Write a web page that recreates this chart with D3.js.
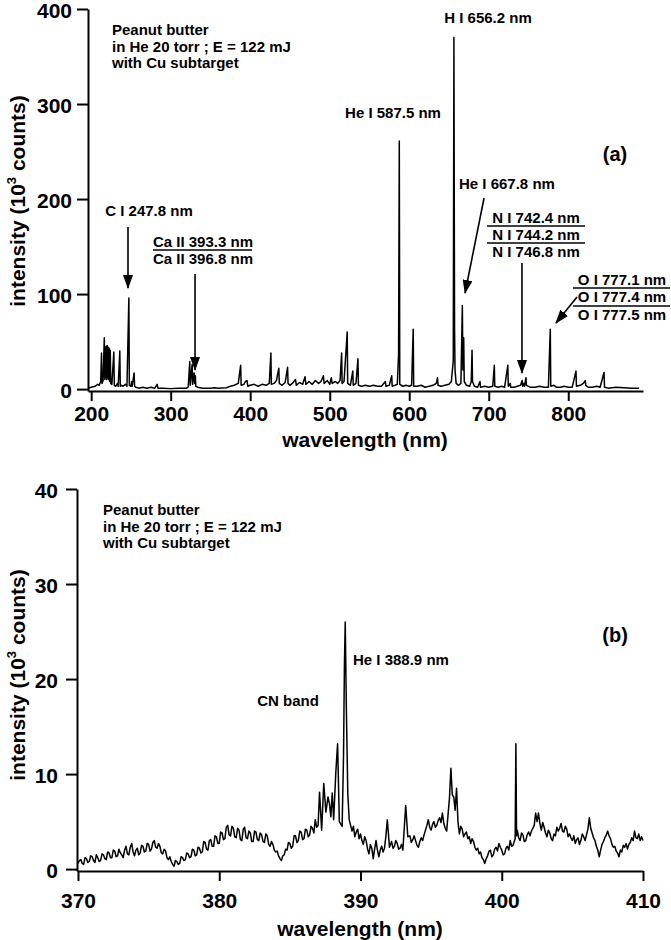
<!DOCTYPE html>
<html>
<head>
<meta charset="utf-8">
<script src="https://cdn.jsdelivr.net/npm/d3@7"></script>
<style>
  body { margin: 0; background: #fff; }
  svg { font-family: "Liberation Sans", Arial, sans-serif; font-weight: bold; }
</style>
</head>
<body>
<div id="chart"></div>
<script>
// panel (a): full spectrum, [wavelength nm, intensity 10^3 counts]
const spectrumA = [
  [197,1],[200,2],[205,3],[208,5],[210,4],[212,8],[213,38],[213.6,6],[215,9],[216.5,54],[217.2,10],
  [217.8,44],[218.4,12],[219,45],[219.6,10],[220.2,46],[220.8,12],[221.4,44],[222,10],[222.6,43],
  [223.2,8],[224,41],[224.6,6],[226,5],[228.5,39],[229.1,4],[231,3],[233,6],[234,3],[236,40],
  [236.6,3],[238,4],[240,3],[243,5],[245,3],[247.4,96],[248,4],[250,3],[251,8],[251.6,3],[254,17],
  [254.6,3],[256,2],[260,1],[265,2],[270,1],[275,2],[280,1],[283,5],[284,1],[290,1],[300,0.5],
  [310,1],[320,1],[322,2],[324,29],[324.6,4],[327,26],[327.6,5],[329.5,17],[330.2,6],[331,14],
  [331.6,3],[334,2],[340,1],[350,1],[355,1.5],[360,1],[370,1.5],[375,3],[380,4],[385,6],[388,25],
  [388.6,4],[392,5],[394,8],[396,9],[397,3],[400,4],[405,5],[410,3],[415,5],[420,4],[424,6],
  [426,38],[426.6,5],[430,6],[433,9],[436,22],[436.6,6],[440,4],[444,7],[447,23],[447.6,6],[450,4],
  [453,6],[457,10],[458,4],[462,7],[466,5],[469,13],[470,5],[474,8],[478,5],[482,9],[486,6],
  [489,8],[492,14],[493,6],[497,9],[500,5],[502,12],[503,6],[507,8],[510,6],[513,9],[515,38],
  [515.6,6],[518,8],[522,60],[522.6,6],[526,4],[529,19],[529.6,4],[533,6],[535.5,32],[536.1,4],
  [540,3],[545,4],[550,3],[555,4],[560,3],[565,3],[570,8],[570.6,3],[575,4],[578,14],[578.6,3],
  [582,4],[585,5],[586.6,36],[587.5,261],[588.1,5],[592,3],[596,4],[600,3],[603,4],[605,63],
  [605.6,3],[610,3],[615,4],[620,2],[625,3],[630,4],[634,6],[635.6,12],[636.2,4],[640,3],[645,4],
  [650,5],[653,8],[654.5,22],[655.4,30],[656.2,370],[657,64],[657.6,20],[659,6],[662,4],[665,6],
  [666.8,88],[667.5,20],[668.5,54],[669.2,8],[672,4],[676,3],[678,8],[679,41],[679.6,8],[682,3],
  [686,2],[689,8],[689.6,2],[695,3],[700,2],[705,3],[707,25],[707.6,3],[712,2],[716,3],[720,2],
  [724,25],[724.6,3],[727,6],[727.6,2],[732,2],[736,3],[740,4],[742,9],[742.6,3],[744.2,6],[745,3],
  [746.8,12],[747.4,4],[752,2],[758,2],[764,3],[770,2],[775,2],[777.4,63],[778,3],[782,4],[785,2],
  [790,2],[795,3],[800,2],[805,2],[809.7,19],[810.3,3],[815,4],[819,6],[821.4,9],[822,4],[825,2],
  [830,2],[836,3],[840,2],[845,17.5],[845.6,2],[850,1],[860,2],[870,1.5],[880,1],[889,1]
]

// panel (b): 370-410 nm detail
const spectrumB = [
  [370.0,0.6],[370.1,0.9],[370.2,1.0],[370.3,0.6],[370.4,0.5],[370.5,1.2],[370.6,1.1],[370.7,0.7],
  [370.8,0.8],[370.9,1.4],[371.0,1.3],[371.1,0.9],[371.2,0.7],[371.3,1.5],[371.4,1.2],[371.5,0.8],
  [371.6,0.9],[371.7,1.6],[371.8,1.5],[371.9,1.1],[372.0,1.0],[372.1,1.8],[372.2,1.7],[372.3,1.2],
  [372.4,1.2],[372.5,2.0],[372.6,1.9],[372.7,1.3],[372.8,1.4],[372.9,2.1],[373.0,1.7],[373.1,1.5],
  [373.2,1.2],[373.3,2.0],[373.4,2.4],[373.5,1.6],[373.6,1.5],[373.7,2.3],[373.8,2.7],[373.9,1.8],
  [374.0,1.4],[374.1,2.0],[374.2,2.2],[374.3,1.5],[374.4,1.7],[374.5,2.5],[374.6,2.4],[374.7,1.8],
  [374.8,1.9],[374.9,2.7],[375.0,2.6],[375.1,1.9],[375.2,2.1],[375.3,2.8],[375.4,3.0],[375.5,2.3],
  [375.6,2.2],[375.7,2.7],[375.8,2.4],[375.9,1.7],[376.0,1.6],[376.1,2.1],[376.2,1.9],[376.3,1.2],
  [376.4,1.0],[376.5,1.3],[376.6,0.8],[376.7,0.5],[376.8,0.3],[376.9,0.9],[377.0,0.8],[377.1,0.5],
  [377.2,0.6],[377.3,1.3],[377.4,1.2],[377.5,0.9],[377.6,1.0],[377.7,1.7],[377.8,1.6],[377.9,1.2],
  [378.0,1.3],[378.1,2.1],[378.2,2.0],[378.3,1.4],[378.4,1.5],[378.5,2.3],[378.6,2.2],[378.7,1.7],
  [378.8,1.8],[378.9,2.9],[379.0,2.8],[379.1,2.1],[379.2,2.0],[379.3,3.0],[379.4,3.1],[379.5,2.4],
  [379.6,2.4],[379.7,3.5],[379.8,3.4],[379.9,2.7],[380.0,2.7],[380.1,3.9],[380.2,3.8],[380.3,3.1],
  [380.4,3.2],[380.5,4.4],[380.6,4.6],[380.7,3.6],[380.8,3.5],[380.9,4.5],[381.0,4.3],[381.1,3.4],
  [381.2,3.3],[381.3,4.3],[381.4,4.1],[381.5,3.1],[381.6,3.0],[381.7,4.2],[381.8,4.4],[381.9,3.3],
  [382.0,3.2],[382.1,4.0],[382.2,3.8],[382.3,2.9],[382.4,2.9],[382.5,4.0],[382.6,3.9],[382.7,3.1],
  [382.8,3.0],[382.9,3.8],[383.0,3.6],[383.1,2.9],[383.2,2.8],[383.3,3.7],[383.4,3.5],[383.5,2.6],
  [383.6,2.4],[383.7,2.9],[383.8,2.6],[383.9,2.0],[384.0,1.8],[384.1,1.9],[384.2,1.4],[384.3,1.1],
  [384.4,0.9],[384.5,1.4],[384.6,1.5],[384.7,2.1],[384.8,2.0],[384.9,2.8],[385.0,2.7],[385.1,2.2],
  [385.2,2.4],[385.3,3.5],[385.4,3.5],[385.5,2.8],[385.6,3.0],[385.7,4.0],[385.8,3.9],[385.9,3.1],
  [386.0,3.2],[386.1,4.2],[386.2,4.1],[386.3,3.4],[386.4,3.6],[386.5,4.5],[386.6,4.3],[386.7,3.8],
  [386.8,5.2],[386.9,4.4],[387.0,4.6],[387.1,8.1],[387.25,4.1],[387.4,9.0],[387.55,6.0],[387.7,7.6],
  [387.8,6.9],[387.9,5.5],[388.0,8.0],[388.1,5.2],[388.25,10.1],[388.38,13.2],[388.5,5.0],
  [388.7,4.5],[388.8,12.0],[388.86,21.3],[388.92,26.0],[389.0,16.9],[389.1,8.0],[389.2,5.2],
  [389.3,4.6],[389.4,4.0],[389.5,4.5],[389.6,3.4],[389.7,3.9],[389.8,4.2],[389.9,3.2],[390.0,3.7],
  [390.1,3.0],[390.2,2.6],[390.3,3.4],[390.4,3.0],[390.5,2.1],[390.6,1.6],[390.7,2.6],[390.8,2.2],
  [390.9,1.1],[391.0,2.1],[391.1,3.0],[391.2,2.0],[391.3,1.3],[391.4,2.0],[391.5,2.4],[391.6,1.8],
  [391.7,2.2],[391.8,3.5],[391.9,5.2],[392.05,2.3],[392.2,2.9],[392.3,2.2],[392.4,2.4],[392.5,3.0],
  [392.6,2.7],[392.7,2.1],[392.8,2.2],[392.9,2.6],[393.0,2.0],[393.2,6.7],[393.35,3.4],[393.5,3.5],
  [393.6,2.8],[393.7,3.1],[393.8,3.5],[393.9,3.0],[394.0,2.5],[394.1,2.3],[394.2,2.9],[394.3,3.3],
  [394.4,3.0],[394.5,3.6],[394.6,4.1],[394.7,4.6],[394.8,5.2],[394.9,4.4],[395.0,4.1],[395.1,4.7],
  [395.2,5.0],[395.3,4.4],[395.4,4.6],[395.5,5.1],[395.6,5.4],[395.7,4.9],[395.8,5.9],[395.9,4.8],
  [396.0,4.3],[396.1,4.0],[396.3,7.5],[396.4,10.6],[396.5,7.8],[396.6,7.6],[396.7,6.2],[396.8,8.5],
  [396.9,5.0],[397.0,3.7],[397.1,4.5],[397.2,4.2],[397.3,3.4],[397.4,3.7],[397.5,3.9],[397.6,3.2],
  [397.7,3.4],[397.8,2.7],[397.9,3.2],[398.0,2.9],[398.1,2.3],[398.2,2.0],[398.3,2.2],[398.4,1.6],
  [398.5,1.8],[398.6,1.2],[398.7,1.0],[398.8,0.6],[398.9,1.1],[399.0,1.4],[399.1,1.9],[399.2,2.0],
  [399.3,1.3],[399.4,1.5],[399.5,2.1],[399.6,2.3],[399.7,1.9],[399.8,2.7],[399.9,2.3],[400.0,2.0],
  [400.1,1.5],[400.2,1.6],[400.3,2.2],[400.4,2.4],[400.5,2.0],[400.6,3.0],[400.7,2.4],[400.8,2.5],
  [400.95,3.2],[401.0,13.2],[401.05,3.5],[401.1,4.1],[401.2,3.3],[401.3,3.0],[401.4,3.8],[401.5,3.6],
  [401.6,2.9],[401.7,3.0],[401.8,3.6],[401.9,3.9],[402.0,3.5],[402.1,4.0],[402.2,4.3],[402.3,4.6],
  [402.4,5.9],[402.5,5.0],[402.6,5.9],[402.7,4.8],[402.8,4.1],[402.9,4.9],[403.0,4.4],[403.1,3.8],
  [403.2,3.4],[403.3,4.1],[403.4,3.8],[403.5,3.2],[403.6,3.0],[403.7,3.7],[403.8,3.5],[403.9,4.4],
  [404.0,4.0],[404.1,4.3],[404.2,4.8],[404.3,4.0],[404.4,3.9],[404.5,4.5],[404.6,4.2],[404.7,3.4],
  [404.8,3.7],[404.9,3.3],[405.0,3.0],[405.1,3.5],[405.2,2.7],[405.3,3.1],[405.4,3.3],[405.5,2.6],
  [405.6,3.0],[405.7,3.7],[405.8,3.4],[405.9,3.0],[406.0,3.6],[406.1,4.2],[406.2,5.4],[406.3,4.3],
  [406.4,3.8],[406.5,3.3],[406.6,3.0],[406.7,2.4],[406.8,2.0],[406.9,1.3],[407.0,2.0],[407.1,2.6],
  [407.2,2.9],[407.3,3.3],[407.4,3.6],[407.5,4.0],[407.6,3.5],[407.7,3.2],[407.8,2.6],[407.9,2.3],
  [408.0,2.4],[408.1,1.9],[408.2,1.7],[408.3,1.3],[408.4,2.0],[408.5,1.8],[408.6,2.5],[408.7,2.3],
  [408.8,2.7],[408.9,2.1],[409.0,2.6],[409.1,2.8],[409.2,3.3],[409.3,3.0],[409.4,4.0],[409.5,3.3],
  [409.6,3.2],[409.7,3.7],[409.8,3.0],[409.9,3.4],[410.0,3.0]
]

const xTicksA = [200, 300, 400, 500, 600, 700, 800]
const yTicksA = [0, 100, 200, 300, 400]
const xTicksB = [370, 380, 390, 400, 410]
const yTicksB = [0, 10, 20, 30, 40]

const sampleLines = ['Peanut butter', 'in He 20 torr ; E = 122 mJ', 'with Cu subtarget']

// annotations, anchored in data units
const labelsA = [
  { text: 'H I 656.2 nm',   wl: 699.1, v: 385.3, anchor: 'middle' },
  { text: 'He I 587.5 nm',  wl: 579.6, v: 285.3, anchor: 'middle' },
  { text: 'He I 667.8 nm',  wl: 662.6, v: 210.6, anchor: 'start' },
  { text: 'C I 247.8 nm',   wl: 272.7, v: 182.2, anchor: 'middle' },
  { text: 'Ca II 393.3 nm', wl: 340.6, v: 149.8, anchor: 'middle' },
  { text: 'Ca II 396.8 nm', wl: 340.6, v: 131.7, anchor: 'middle' },
  { text: 'N I 742.4 nm',   wl: 759.5, v: 174.9, anchor: 'middle' },
  { text: 'N I 744.2 nm',   wl: 759.5, v: 157.0, anchor: 'middle' },
  { text: 'N I 746.8 nm',   wl: 759.5, v: 139.1, anchor: 'middle' },
  { text: 'O I 777.1 nm',   wl: 867.6, v: 109.6, anchor: 'middle' },
  { text: 'O I 777.4 nm',   wl: 867.6, v: 91.7,  anchor: 'middle' },
  { text: 'O I 777.5 nm',   wl: 867.6, v: 72.8,  anchor: 'middle' }
]
const rulesA = [
  { wl1: 277.8, wl2: 402.3, v: 146.4 },
  { wl1: 697.8, wl2: 821.1, v: 171.6 },
  { wl1: 697.8, wl2: 821.1, v: 153.8 },
  { wl1: 806.0, wl2: 928.0, v: 106.4 },
  { wl1: 806.0, wl2: 928.0, v: 87.5 }
]
const arrowsA = [
  { from: [246.3, 170.6], to: [246.3, 106.4] },
  { from: [330.6, 121.1], to: [330.6, 20.1] },
  { from: [694.1, 201.1], to: [670.2, 101.1] },
  { from: [741.8, 132.7], to: [741.8, 16.9] },
  { from: [811.0, 96.9],  to: [784.6, 69.6] }
]
const labelsB = [
  { text: 'He I 388.9 nm', wl: 389.47, v: 21.5, anchor: 'start' },
  { text: 'CN band',       wl: 384.87, v: 17.2, anchor: 'middle' }
]

const svg = d3.select('#chart')
              .append('svg')
              .attr('width', 671)
              .attr('height', 940)

svg.append('defs').append('marker')
   .attr('id', 'head')
   .attr('viewBox', '0 0 14 10')
   .attr('refX', 13)
   .attr('refY', 5)
   .attr('markerUnits', 'userSpaceOnUse')
   .attr('markerWidth', 14)
   .attr('markerHeight', 10)
   .attr('orient', 'auto')
   .append('path')
   .attr('d', 'M0,0 L14,5 L0,10 Z')
   .attr('fill', '#000')

const drawPanel = p => {
    const g = svg.append('g')

    // X Axis
    const xAxisCall = d3.axisBottom(p.x)
                        .tickValues(p.xTicks)
                        .tickSize(10)
                        .tickSizeOuter(0)
                        .tickPadding(p.xPad)
    const xg = g.append('g')
                .attr('transform', 'translate(0,' + p.y.range()[0] + ')')
                .call(xAxisCall)

    // Y Axis
    const yAxisCall = d3.axisLeft(p.y)
                        .tickValues(p.yTicks)
                        .tickSize(11)
                        .tickSizeOuter(0)
                        .tickPadding(p.yPad)
    const yg = g.append('g')
                .attr('transform', 'translate(' + p.x.range()[0] + ',0)')
                .call(yAxisCall)
    yg.selectAll('text').attr('dy', '0.42em')

    for (const ax of [xg, yg]) {
        ax.attr('font-size', null).attr('font-family', null)
        ax.selectAll('text').attr('font-size', 21).attr('fill', '#000')
        ax.selectAll('line').attr('stroke-width', 2)
        ax.select('.domain').attr('stroke-width', 2)
    }

    // X Label
    g.append('text')
     .attr('x', p.xLabelX)
     .attr('y', p.xLabelY)
     .attr('font-size', 21)
     .attr('text-anchor', 'middle')
     .text('wavelength (nm)')

    // Y Label
    const yl = g.append('text')
                .attr('transform', 'translate(25,' + p.yLabelY + ') rotate(-90)')
                .attr('font-size', 21)
                .attr('text-anchor', 'middle')
    yl.append('tspan').text('intensity (10')
    yl.append('tspan').attr('font-size', 13).attr('dy', -9).text('3')
    yl.append('tspan').attr('dy', 9).text(' counts)')

    // spectrum
    const line = d3.line()
                   .x(d => p.x(d[0]))
                   .y(d => p.y(d[1]))
    g.append('path')
     .datum(p.data)
     .attr('fill', 'none')
     .attr('stroke', '#000')
     .attr('stroke-width', p.lineWidth)
     .attr('stroke-linejoin', 'round')
     .attr('d', line)

    // sample description
    g.selectAll('.sample')
     .data(sampleLines)
     .enter()
     .append('text')
     .attr('class', 'sample')
     .attr('x', p.x(p.sample.wl))
     .attr('y', (d, i) => p.y(p.sample.v[i]))
     .attr('font-size', 15)
     .text(d => d)

    // panel tag
    g.append('text')
     .attr('x', p.x(p.tag.wl))
     .attr('y', p.y(p.tag.v))
     .attr('font-size', 20)
     .attr('text-anchor', 'middle')
     .text(p.tag.text)

    g.selectAll('.lbl')
     .data(p.labels)
     .enter()
     .append('text')
     .attr('class', 'lbl')
     .attr('x', d => p.x(d.wl))
     .attr('y', d => p.y(d.v))
     .attr('font-size', 15)
     .attr('text-anchor', d => d.anchor)
     .text(d => d.text)

    g.selectAll('.rule')
     .data(p.rules)
     .enter()
     .append('line')
     .attr('x1', d => p.x(d.wl1))
     .attr('x2', d => p.x(d.wl2))
     .attr('y1', d => p.y(d.v))
     .attr('y2', d => p.y(d.v))
     .attr('stroke', '#000')
     .attr('stroke-width', 1.5)

    g.selectAll('.arrow')
     .data(p.arrows)
     .enter()
     .append('line')
     .attr('x1', d => p.x(d.from[0]))
     .attr('y1', d => p.y(d.from[1]))
     .attr('x2', d => p.x(d.to[0]))
     .attr('y2', d => p.y(d.to[1]))
     .attr('stroke', '#000')
     .attr('stroke-width', 1.6)
     .attr('marker-end', 'url(#head)')
}

drawPanel({
    data: spectrumA,
    x: d3.scaleLinear().domain([196, 894]).range([88, 643]),
    y: d3.scaleLinear().domain([-2, 400]).range([391, 9]),
    xTicks: xTicksA, yTicks: yTicksA,
    xPad: 5, yPad: 5, lineWidth: 1.5,
    xLabelX: 365, xLabelY: 447, yLabelY: 201,
    sample: { wl: 226.2, v: [372.7, 354.8, 337.9] },
    tag: { text: '(a)', wl: 858.8, v: 240.0 },
    labels: labelsA, rules: rulesA, arrows: arrowsA
})

drawPanel({
    data: spectrumB,
    x: d3.scaleLinear().domain([369.93, 410]).range([77, 643]),
    y: d3.scaleLinear().domain([-0.2, 40]).range([871, 489]),
    xTicks: xTicksB, yTicks: yTicksB,
    xPad: 12, yPad: 8, lineWidth: 1.5,
    xLabelX: 360, xLabelY: 936, yLabelY: 675,
    sample: { wl: 371.77, v: [37.3, 35.5, 33.8] },
    tag: { text: '(b)', wl: 408.02, v: 23.9 },
    labels: labelsB, rules: [], arrows: []
})
</script>
</body>
</html>
